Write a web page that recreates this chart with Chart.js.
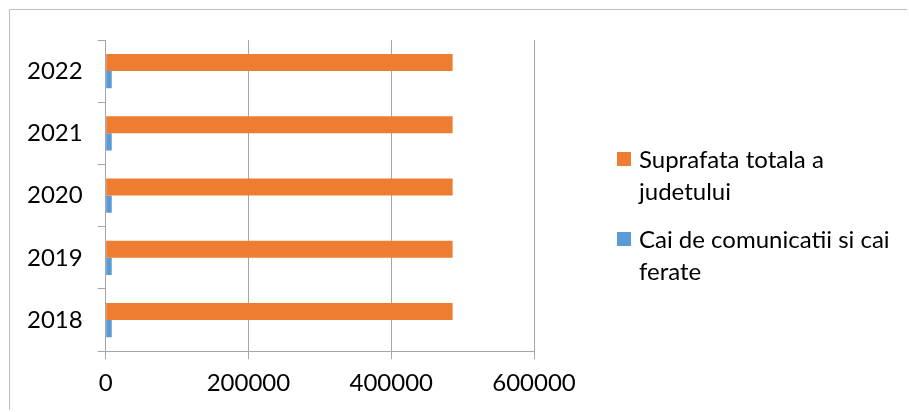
<!DOCTYPE html>
<html>
<head>
<meta charset="utf-8">
<script src="https://cdn.jsdelivr.net/npm/chart.js@4"></script>
<style>
    body { margin: 0; background: #fff; }
    #wrap { position: relative; width: 909px; height: 412px; }
    #frame { position: absolute; left: 9px; top: 9px; width: 898px; height: 401px; border: 1px solid #bfbfbf; box-sizing: border-box; border-right: none; border-bottom: none; }
    #legend { position: absolute; left: 617px; top: 143px; font-family: Lato, "Open Sans", sans-serif; font-size: 24px; line-height: 32px; color: #000; }
    .item { position: relative; padding-left: 22px; margin-bottom: 16px; }
    .swatch { position: absolute; left: 0; top: 9px; width: 14px; height: 14px; }
</style>
</head>
<body>
<div id="wrap">
    <canvas id="chart" width="909" height="412"></canvas>
    <div id="frame"></div>
    <div id="legend"></div>
</div>
<script>
// chart data
const years = ['2018', '2019', '2020', '2021', '2022'];
const suprafataTotala = [486000, 486000, 486000, 486000, 486000];
const caiComunicatii = [8500, 8500, 8500, 8500, 8500];
const xTicks = [0, 200000, 400000, 600000];

const seriesNames = ['Suprafata totala a<br>judetului', 'Cai de comunicatii si cai<br>ferate'];
const seriesColors = ['#ED7D31', '#5B9BD5'];

// top of the chart shows the latest year
const labels = years.slice().reverse();
const gridColor = '#a6a6a6';
const tickFont = { family: 'Lato, "Open Sans", sans-serif', size: 24 };

const ctx = document.getElementById('chart').getContext('2d');
new Chart(ctx, {
    type: 'bar',
    data: {
        labels: labels,
        datasets: [{
            label: 'Suprafata totala a judetului',
            data: suprafataTotala.slice().reverse(),
            backgroundColor: seriesColors[0]
        }, {
            label: 'Cai de comunicatii si cai ferate',
            data: caiComunicatii.slice().reverse(),
            backgroundColor: seriesColors[1]
        }]
    },
    options: {
        indexAxis: 'y',
        responsive: false,
        animation: false,
        layout: { padding: { left: 12, top: 40, right: 375, bottom: 4 } },
        datasets: { bar: { barPercentage: 1, categoryPercentage: 0.55 } },
        plugins: { legend: { display: false }, tooltip: { enabled: false } },
        scales: {
            x: {
                min: 0,
                max: 600000,
                afterBuildTicks: (axis) => { axis.ticks = xTicks.map(v => ({ value: v })); },
                ticks: { color: '#000', font: tickFont, padding: 10, maxRotation: 0,
                    callback: (v) => String(v) },
                grid: { color: gridColor, tickLength: 8, lineWidth: 1 },
                border: { color: gridColor }
            },
            y: {
                ticks: { color: '#000', font: tickFont, padding: 15 },
                grid: { color: gridColor, offset: true, drawOnChartArea: false, tickLength: 8 },
                border: { color: gridColor }
            }
        }
    }
});

const legend = document.getElementById('legend');
seriesNames.forEach((name, i) => {
    const item = document.createElement('div');
    item.className = 'item';
    item.innerHTML = `<span class="swatch" style="background:${seriesColors[i]}"></span>${name}`;
    legend.appendChild(item);
});
</script>
</body>
</html>
